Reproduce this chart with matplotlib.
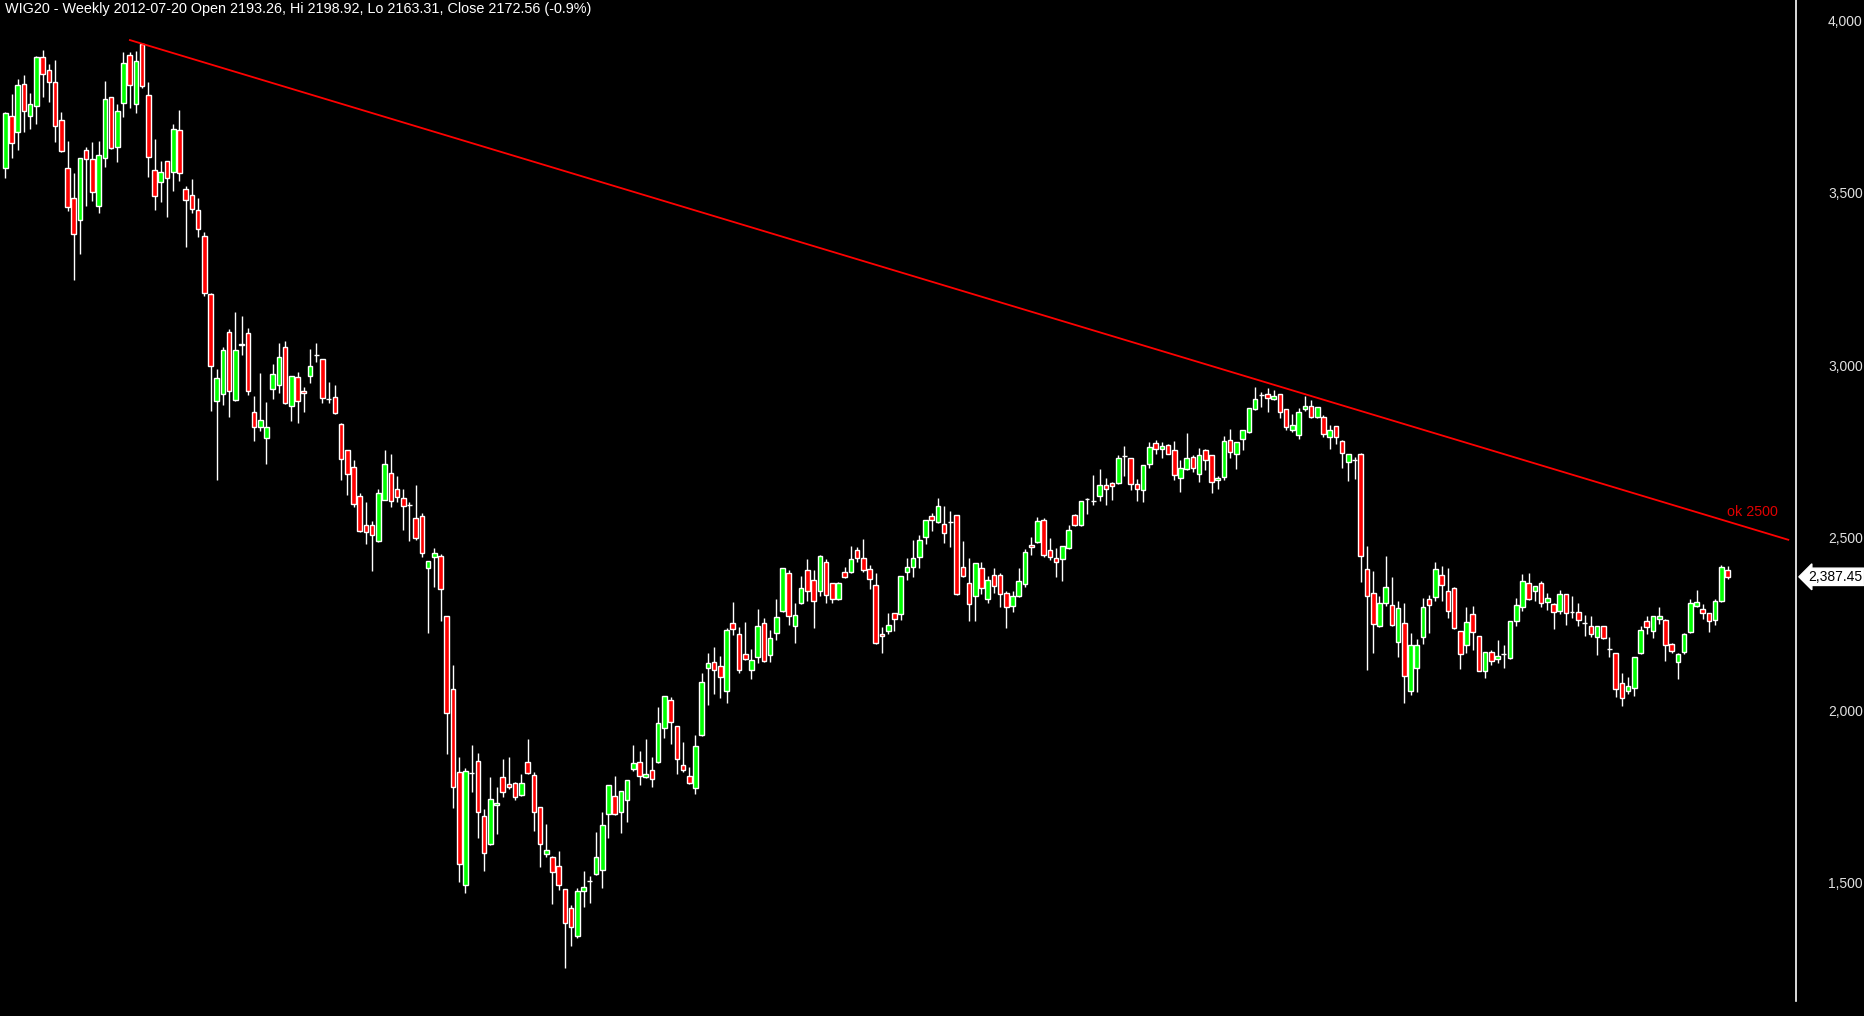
import matplotlib
matplotlib.use("Agg")
import matplotlib.pyplot as plt
import matplotlib.transforms as mtransforms
import numpy as np

plt.rcParams['font.family'] = ['Liberation Sans', 'DejaVu Sans']

title = "WIG20 - Weekly 2012-07-20 Open 2193.26, Hi 2198.92, Lo 2163.31, Close 2172.56 (-0.9%)"

opens = [3571, 3724, 3678, 3815, 3722, 3751, 3893, 3856, 3821, 3711,
         3571, 3485, 3421, 3624, 3598, 3461, 3600, 3777, 3632, 3760,
         3899, 3757, 3931, 3783, 3566, 3531, 3592, 3560, 3682, 3511,
         3493, 3450, 3374, 3206, 2896, 2916, 3096, 2899, 3061, 3093,
         2864, 2821, 2789, 2933, 2943, 3053, 2882, 2966, 2926, 2969,
         3029, 3018, 2902, 2908, 2830, 2754, 2705, 2621, 2537, 2537,
         2492, 2609, 2687, 2641, 2615, 2596, 2557, 2563, 2412, 2444,
         2447, 2273, 2061, 1821, 1493, 1818, 1853, 1693, 1614, 1725,
         1806, 1786, 1789, 1754, 1850, 1812, 1719, 1583, 1574, 1548,
         1482, 1427, 1345, 1476, 1505, 1525, 1537, 1699, 1751, 1705,
         1740, 1830, 1850, 1806, 1827, 1850, 1948, 2029, 1954, 1841,
         1809, 1774, 1928, 2122, 2140, 2128, 2056, 2253, 2221, 2163,
         2116, 2154, 2253, 2160, 2224, 2287, 2398, 2244, 2311, 2406,
         2377, 2345, 2429, 2369, 2322, 2400, 2400, 2464, 2441, 2409,
         2363, 2221, 2229, 2282, 2279, 2400, 2415, 2444, 2502, 2563,
         2545, 2540, 2547, 2566, 2415, 2369, 2331, 2412, 2322, 2392,
         2392, 2340, 2302, 2331, 2366, 2479, 2487, 2551, 2464, 2441,
         2438, 2470, 2566, 2537, 2612, 2606, 2621, 2653, 2658, 2658,
         2737, 2731, 2656, 2638, 2714, 2774, 2757, 2769, 2754, 2673,
         2699, 2734, 2685, 2754, 2740, 2667, 2676, 2783, 2743, 2786,
         2806, 2873, 2914, 2916, 2902, 2916, 2873, 2812, 2798, 2873,
         2882, 2850, 2850, 2792, 2824, 2780, 2719, 2725, 2743, 2409,
         2340, 2244, 2311, 2305, 2198, 2253, 2056, 2122, 2212, 2322,
         2328, 2392, 2345, 2354, 2229, 2189, 2279, 2215, 2114, 2169,
         2148, 2165, 2151, 2258, 2299, 2369, 2345, 2369, 2314, 2308,
         2287, 2337, 2285, 2285, 2253, 2244, 2212, 2244, 2177, 2166,
         2079, 2056, 2064, 2166, 2258, 2229, 2264, 2261, 2192, 2140,
         2169, 2227, 2302, 2293, 2282, 2261, 2316, 2406]

highs = [3735, 3787, 3829, 3842, 3789, 3897, 3914, 3874, 3885, 3735,
         3651, 3557, 3601, 3634, 3648, 3651, 3825, 3779, 3758, 3908,
         3908, 3912, 3936, 3821, 3657, 3593, 3593, 3700, 3741, 3520,
         3541, 3485, 3386, 3209, 2989, 3053, 3105, 3154, 3143, 3108,
         2912, 2978, 2894, 3004, 3065, 3071, 2970, 2981, 2937, 3048,
         3065, 3019, 2952, 2943, 2832, 2755, 2726, 2630, 2604, 2548,
         2641, 2754, 2742, 2679, 2641, 2603, 2653, 2572, 2433, 2470,
         2453, 2274, 2132, 1864, 1832, 1900, 1876, 1714, 1806, 1777,
         1858, 1864, 1792, 1815, 1916, 1821, 1720, 1670, 1577, 1592,
         1483, 1435, 1485, 1535, 1519, 1647, 1705, 1784, 1809, 1767,
         1799, 1899, 1882, 1916, 1864, 2009, 2042, 2038, 1955, 1908,
         1835, 1928, 2108, 2166, 2183, 2157, 2238, 2314, 2241, 2256,
         2177, 2293, 2267, 2232, 2322, 2413, 2406, 2311, 2389, 2438,
         2406, 2450, 2438, 2370, 2372, 2415, 2476, 2473, 2496, 2421,
         2398, 2241, 2284, 2283, 2390, 2441, 2494, 2508, 2552, 2571,
         2615, 2592, 2577, 2567, 2490, 2441, 2428, 2429, 2389, 2412,
         2398, 2345, 2345, 2412, 2467, 2502, 2560, 2557, 2499, 2470,
         2477, 2537, 2569, 2607, 2615, 2682, 2699, 2673, 2661, 2740,
         2767, 2732, 2670, 2712, 2777, 2783, 2777, 2772, 2780, 2725,
         2803, 2740, 2760, 2757, 2741, 2679, 2795, 2815, 2778, 2813,
         2877, 2937, 2922, 2934, 2928, 2917, 2874, 2858, 2876, 2911,
         2899, 2880, 2856, 2827, 2825, 2783, 2744, 2734, 2745, 2476,
         2403, 2331, 2447, 2386, 2316, 2311, 2224, 2206, 2325, 2334,
         2429, 2418, 2412, 2357, 2230, 2299, 2302, 2216, 2170, 2174,
         2203, 2189, 2259, 2325, 2395, 2398, 2361, 2374, 2340, 2311,
         2348, 2338, 2331, 2311, 2276, 2273, 2245, 2245, 2212, 2167,
         2108, 2096, 2155, 2244, 2273, 2274, 2299, 2264, 2195, 2166,
         2224, 2322, 2348, 2308, 2283, 2322, 2421, 2418]

lows = [3543, 3600, 3625, 3678, 3686, 3701, 3779, 3765, 3649, 3619,
        3449, 3248, 3324, 3463, 3478, 3443, 3576, 3627, 3591, 3721,
        3747, 3733, 3803, 3545, 3452, 3475, 3429, 3507, 3536, 3344,
        3441, 3373, 3200, 2869, 2669, 2886, 2852, 2897, 3029, 2914,
        2782, 2811, 2715, 2903, 2921, 2889, 2840, 2834, 2866, 2950,
        3011, 2890, 2892, 2860, 2669, 2626, 2591, 2518, 2484, 2405,
        2489, 2609, 2591, 2605, 2524, 2492, 2495, 2444, 2225, 2359,
        2258, 1875, 1718, 1504, 1472, 1765, 1631, 1536, 1609, 1643,
        1750, 1771, 1740, 1753, 1817, 1652, 1547, 1574, 1440, 1479,
        1255, 1318, 1340, 1431, 1443, 1524, 1485, 1629, 1698, 1644,
        1676, 1824, 1783, 1803, 1777, 1847, 1919, 1902, 1817, 1823,
        1788, 1759, 1927, 2015, 2047, 2035, 2021, 2218, 2108, 2147,
        2090, 2137, 2141, 2140, 2203, 2286, 2247, 2195, 2308, 2316,
        2238, 2331, 2311, 2311, 2319, 2385, 2399, 2429, 2400, 2351,
        2194, 2166, 2221, 2230, 2262, 2377, 2386, 2412, 2482, 2519,
        2544, 2485, 2473, 2336, 2388, 2260, 2260, 2337, 2311, 2340,
        2301, 2240, 2285, 2328, 2357, 2450, 2486, 2444, 2435, 2386,
        2374, 2467, 2534, 2536, 2569, 2595, 2606, 2595, 2611, 2657,
        2681, 2638, 2608, 2605, 2702, 2743, 2731, 2742, 2667, 2632,
        2698, 2690, 2661, 2696, 2629, 2641, 2667, 2731, 2699, 2754,
        2803, 2870, 2879, 2864, 2899, 2847, 2812, 2806, 2786, 2867,
        2849, 2849, 2792, 2757, 2772, 2702, 2664, 2670, 2372, 2116,
        2166, 2243, 2302, 2246, 2154, 2021, 2044, 2053, 2192, 2224,
        2316, 2316, 2267, 2237, 2119, 2166, 2174, 2113, 2093, 2131,
        2137, 2122, 2150, 2244, 2287, 2321, 2316, 2299, 2290, 2237,
        2279, 2247, 2267, 2244, 2215, 2212, 2160, 2206, 2154, 2038,
        2012, 2047, 2041, 2165, 2221, 2209, 2250, 2143, 2166, 2090,
        2163, 2224, 2299, 2264, 2227, 2247, 2315, 2380]

closes = [3733, 3644, 3812, 3737, 3757, 3895, 3844, 3821, 3693, 3621,
          3458, 3380, 3600, 3598, 3502, 3609, 3771, 3629, 3737, 3876,
          3812, 3882, 3809, 3603, 3490, 3560, 3542, 3685, 3557, 3479,
          3453, 3395, 3209, 2998, 2963, 3044, 2925, 3044, 3060, 2925,
          2821, 2841, 2821, 2974, 3024, 2890, 2969, 2896, 2919, 2998,
          3029, 2907, 2902, 2861, 2728, 2685, 2598, 2521, 2516, 2508,
          2630, 2714, 2606, 2618, 2592, 2596, 2501, 2456, 2432, 2456,
          2351, 1992, 1777, 1554, 1824, 1818, 1707, 1586, 1743, 1731,
          1763, 1777, 1748, 1789, 1818, 1705, 1612, 1595, 1531, 1493,
          1383, 1372, 1476, 1487, 1505, 1574, 1667, 1783, 1699, 1766,
          1798, 1847, 1809, 1815, 1801, 1963, 2041, 1966, 1858, 1827,
          1789, 1896, 2082, 2137, 2116, 2096, 2232, 2235, 2116, 2148,
          2145, 2244, 2142, 2209, 2270, 2412, 2273, 2276, 2354, 2345,
          2316, 2447, 2334, 2322, 2369, 2386, 2438, 2441, 2406, 2380,
          2195, 2215, 2247, 2264, 2389, 2415, 2441, 2493, 2551, 2551,
          2592, 2513, 2547, 2337, 2389, 2308, 2427, 2354, 2377, 2360,
          2337, 2299, 2331, 2374, 2458, 2473, 2548, 2450, 2444, 2429,
          2476, 2522, 2537, 2606, 2612, 2606, 2653, 2641, 2650, 2731,
          2737, 2656, 2641, 2711, 2763, 2757, 2766, 2743, 2682, 2702,
          2731, 2702, 2740, 2725, 2661, 2673, 2780, 2748, 2777, 2812,
          2876, 2902, 2914, 2905, 2911, 2864, 2821, 2827, 2864, 2882,
          2850, 2879, 2800, 2812, 2792, 2745, 2743, 2725, 2447, 2331,
          2250, 2311, 2357, 2247, 2296, 2099, 2189, 2189, 2299, 2305,
          2409, 2363, 2287, 2238, 2163, 2256, 2227, 2114, 2169, 2143,
          2157, 2165, 2258, 2305, 2374, 2322, 2360, 2311, 2325, 2285,
          2337, 2282, 2285, 2261, 2253, 2221, 2244, 2209, 2177, 2061,
          2035, 2070, 2154, 2232, 2241, 2273, 2273, 2189, 2171, 2163,
          2221, 2311, 2314, 2282, 2258, 2316, 2415, 2387.45]

ytick_vals = [1500, 2000, 2500, 3000, 3500, 4000]
ytick_labels = ["1,500", "2,000", "2,500", "3,000", "3,500", "4,000"]

trend_x = [19.9, 286.9]
trend_y = [3944, 2494]
trend_label = "ok 2500"
trend_label_pos = (285.1, 2576)
last_label = "2,387.45"

W, H = 1865, 1016
fig = plt.figure(figsize=(W / 100, H / 100), dpi=100, facecolor="black")
ax = fig.add_axes([0, 15 / H, 1796 / W, 1001 / H], facecolor="black")

n = len(closes)
x = np.arange(n)
o = np.array(opens, float)
c = np.array(closes, float)
hi = np.array(highs, float)
lo = np.array(lows, float)

ax.vlines(x, lo, hi, color="white", linewidth=1.0, zorder=2)
up = c >= o
colors = np.where(up, "#00FF00", "#FF0000")
bottoms = np.minimum(o, c)
heights = np.abs(c - o)
ax.bar(x, heights, bottom=bottoms, width=0.74, color=colors,
       edgecolor="white", linewidth=1.0, zorder=3)

ax.plot(trend_x, trend_y, color="#FF0000", linewidth=1.3, zorder=4,
        solid_capstyle="butt")
ax.text(trend_label_pos[0], trend_label_pos[1], trend_label, color="#E00000",
        fontsize=10.3, ha="right", va="center", zorder=5)

ax.set_xlim(-0.857, 288.0)
ax.set_ylim(1157.9, 4059.4)

for s in ["left", "top", "bottom"]:
    ax.spines[s].set_visible(False)
ax.spines["right"].set_color("white")
ax.spines["right"].set_linewidth(1.2)

ax.set_xticks([])
ax.yaxis.tick_right()
ax.set_yticks(ytick_vals)
ax.set_yticklabels(ytick_labels, ha="right")
ax.tick_params(axis="y", length=0, pad=48, labelcolor="#E0E0E0", labelsize=10)

trans = mtransforms.blended_transform_factory(ax.transAxes, ax.transData)
ax.text(1.0 + 12 / 1796, closes[-1], last_label, transform=trans,
        color="black", fontsize=10, ha="left", va="center", clip_on=False,
        bbox=dict(boxstyle="larrow,pad=0.12", fc="white", ec="white"), zorder=6)

fig.text(5 / W, 1 - 9 / H, title, color="white", fontsize=10.4,
         ha="left", va="center")

fig.savefig("out.png", dpi=100, facecolor="black")
